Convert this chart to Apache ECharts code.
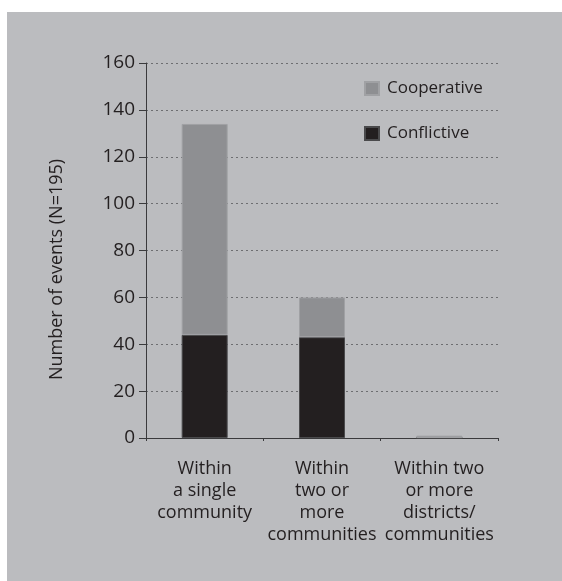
<!DOCTYPE html>
<html>
<head>
<meta charset="utf-8">
<script src="https://cdn.jsdelivr.net/npm/echarts@6/dist/echarts.min.js"></script>
<style>
  html, body { margin: 0; padding: 0; background: #fff; }
  #chart { width: 562px; height: 581px; }
</style>
</head>
<body>
<div id="chart"></div>
<script>
// data
const categories = ['Within\na single\ncommunity', 'Within\ntwo or\nmore\ncommunities', 'Within two\nor more\ndistricts/\ncommunities']
const conflictive = [44, 43, 0]
const cooperative = [90, 17, 1]
const yTicks = { min: 0, max: 160, interval: 20 }

const ink = '#231f20'
const font = 'Open Sans'

const chart = echarts.init(document.getElementById('chart'))

chart.setOption({
    animation: false,
    textStyle: { fontFamily: font, color: ink },
    graphic: [
        {
            type: 'rect',
            z: -10,
            shape: { x: 7, y: 12, width: 555, height: 569 },
            style: { fill: '#bbbcbf' }
        }
    ],
    grid: { left: 146, right: 64, top: 63, bottom: 143 },
    legend: {
        orient: 'vertical',
        left: 359,
        top: 75,
        itemWidth: 14,
        itemHeight: 13,
        itemGap: 28,
        icon: 'rect',
        data: ['Cooperative', 'Conflictive'],
        textStyle: { fontFamily: font, fontSize: 17, color: ink, padding: [0, 0, 0, 3] }
    },
    xAxis: {
        type: 'category',
        data: categories,
        axisLine: { lineStyle: { color: '#3a3a3c', width: 1 } },
        axisTick: { show: true, length: 3, lineStyle: { color: '#3a3a3c' } },
        axisLabel: {
            interval: 0,
            margin: 20,
            fontFamily: font,
            fontSize: 18,
            lineHeight: 22,
            color: ink
        }
    },
    yAxis: {
        type: 'value',
        min: yTicks.min,
        max: yTicks.max,
        interval: yTicks.interval,
        name: 'Number of events (N=195)',
        nameLocation: 'middle',
        nameGap: 80,
        nameTextStyle: { fontFamily: font, fontSize: 18, color: ink, padding: [0, 38, 0, 0] },
        axisLine: { show: true, lineStyle: { color: '#3a3a3c', width: 1 } },
        axisTick: { show: true, length: 7, lineStyle: { color: '#3a3a3c' } },
        axisLabel: { margin: 11, fontFamily: font, fontSize: 19, color: ink },
        splitLine: {
            show: true,
            lineStyle: { color: '#6d6e71', type: [2, 3], width: 1 }
        }
    },
    series: [
        {
            name: 'Conflictive',
            type: 'bar',
            stack: 'events',
            barWidth: 46,
            data: conflictive,
            itemStyle: { color: ink, borderColor: '#4a4a4c', borderWidth: 1 }
        },
        {
            name: 'Cooperative',
            type: 'bar',
            stack: 'events',
            barWidth: 46,
            data: cooperative,
            itemStyle: { color: '#8e8f92', borderColor: '#a0a1a4', borderWidth: 1 }
        }
    ]
})
</script>
</body>
</html>
